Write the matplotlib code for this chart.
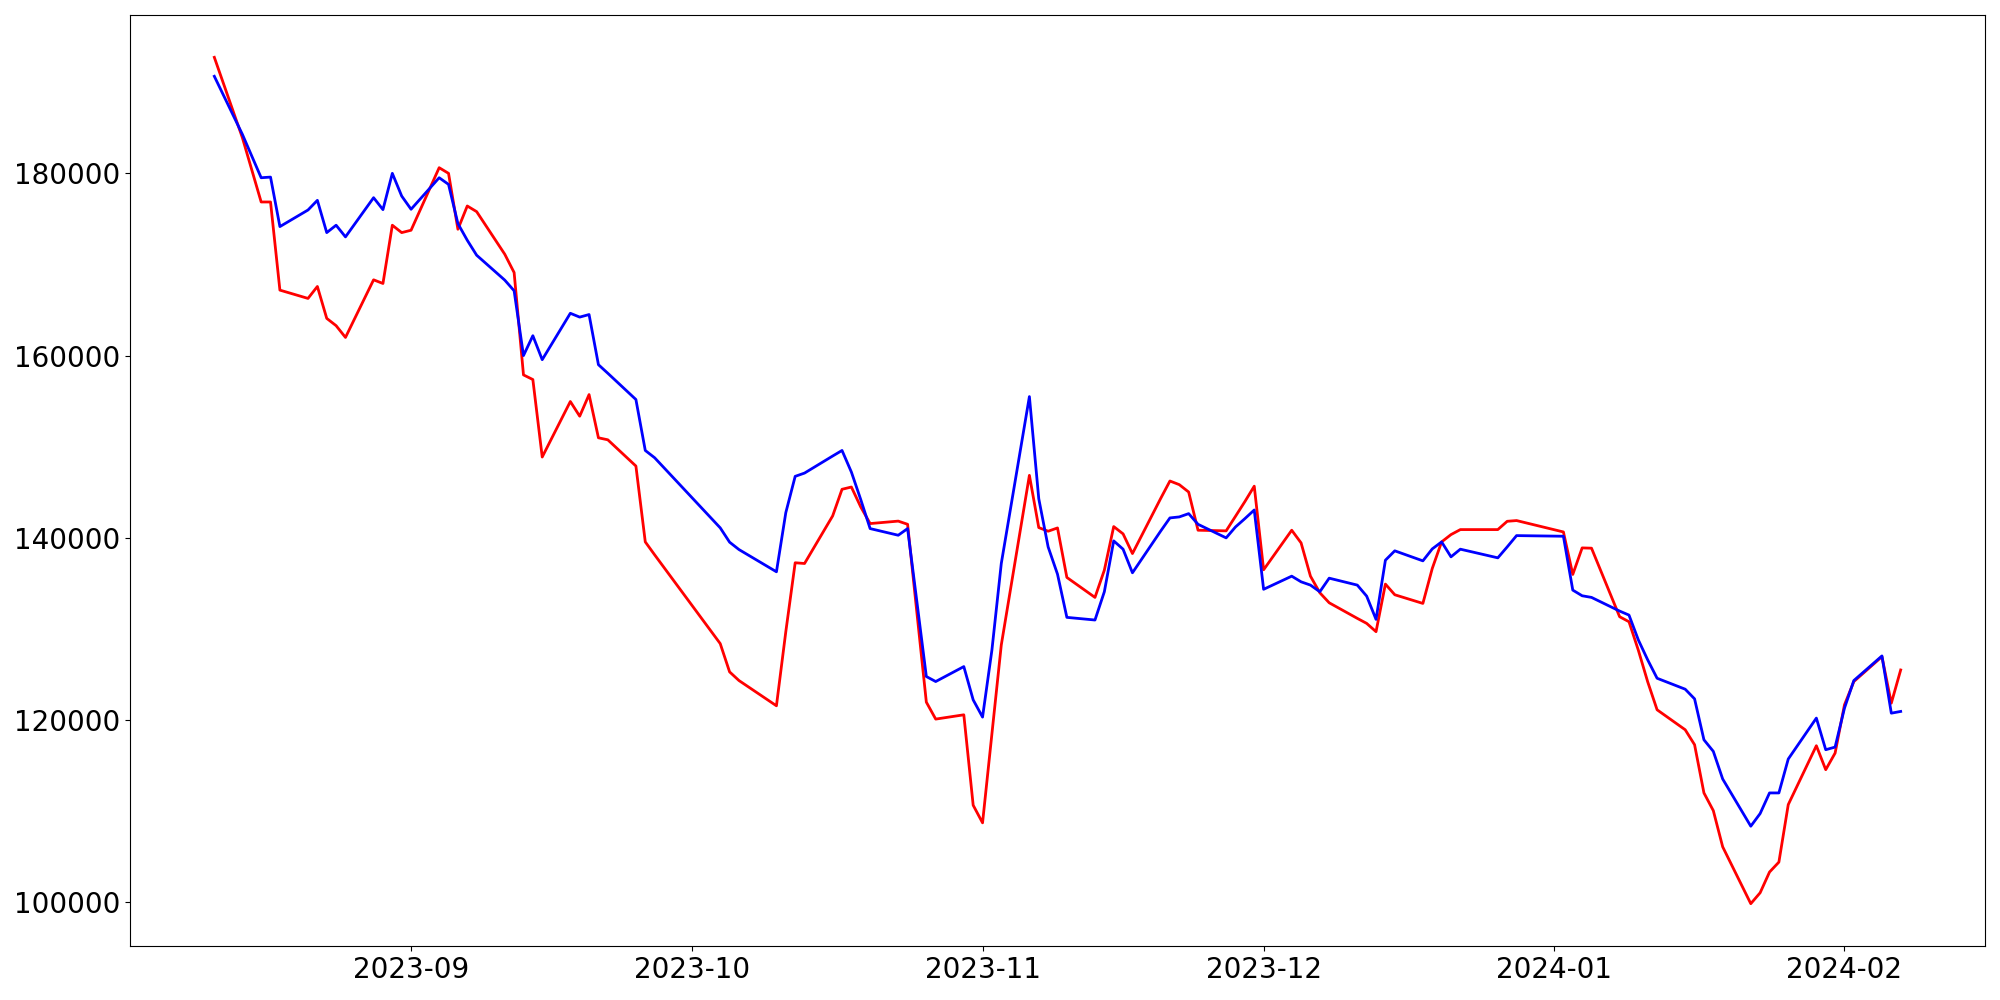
import numpy as np
import pandas as pd
import matplotlib
matplotlib.use("Agg")
import matplotlib.pyplot as plt

# trading days (KRX calendar)
dates = [
    "2023-08-11", "2023-08-14", "2023-08-16", "2023-08-17", "2023-08-18",
    "2023-08-21", "2023-08-22", "2023-08-23", "2023-08-24", "2023-08-25",
    "2023-08-28", "2023-08-29", "2023-08-30", "2023-08-31", "2023-09-01",
    "2023-09-04", "2023-09-05", "2023-09-06", "2023-09-07", "2023-09-08",
    "2023-09-11", "2023-09-12", "2023-09-13", "2023-09-14", "2023-09-15",
    "2023-09-18", "2023-09-19", "2023-09-20", "2023-09-21", "2023-09-22",
    "2023-09-25", "2023-09-26", "2023-09-27", "2023-10-04", "2023-10-05",
    "2023-10-06", "2023-10-10", "2023-10-11", "2023-10-12", "2023-10-13",
    "2023-10-16", "2023-10-17", "2023-10-18", "2023-10-19", "2023-10-20",
    "2023-10-23", "2023-10-24", "2023-10-25", "2023-10-26", "2023-10-27",
    "2023-10-30", "2023-10-31", "2023-11-01", "2023-11-02", "2023-11-03",
    "2023-11-06", "2023-11-07", "2023-11-08", "2023-11-09", "2023-11-10",
    "2023-11-13", "2023-11-14", "2023-11-15", "2023-11-16", "2023-11-17",
    "2023-11-20", "2023-11-21", "2023-11-22", "2023-11-23", "2023-11-24",
    "2023-11-27", "2023-11-28", "2023-11-29", "2023-11-30", "2023-12-01",
    "2023-12-04", "2023-12-05", "2023-12-06", "2023-12-07", "2023-12-08",
    "2023-12-11", "2023-12-12", "2023-12-13", "2023-12-14", "2023-12-15",
    "2023-12-18", "2023-12-19", "2023-12-20", "2023-12-21", "2023-12-22",
    "2023-12-26", "2023-12-27", "2023-12-28", "2024-01-02", "2024-01-03",
    "2024-01-04", "2024-01-05", "2024-01-08", "2024-01-09", "2024-01-10",
    "2024-01-11", "2024-01-12", "2024-01-15", "2024-01-16", "2024-01-17",
    "2024-01-18", "2024-01-19", "2024-01-22", "2024-01-23", "2024-01-24",
    "2024-01-25", "2024-01-26", "2024-01-29", "2024-01-30", "2024-01-31",
    "2024-02-01", "2024-02-02", "2024-02-05", "2024-02-06", "2024-02-07",
]

red_values = [
    192720, 183890, 176850, 176850, 167180,
    166270, 167580, 164080, 163280, 161990,
    168310, 167910, 174300, 173490, 173750,
    180610, 179990, 173860, 176410, 175790,
    171120, 169110, 157880, 157370, 148870,
    154960, 153350, 155720, 150980, 150760,
    147880, 139560, 138140, 128400, 125300,
    124350, 121580, 129710, 137270, 137190,
    142410, 145330, 145580, 143390, 141570,
    141840, 141490, 131720, 121980, 120120,
    120590, 110670, 108740, 118510, 128250,
    146860, 141130, 140730, 141090, 135660,
    133470, 136460, 141240, 140440, 138280,
    144300, 146240, 145840, 145030, 140840,
    140770, 142370, 143980, 145670, 136500,
    140840, 139450, 135800, 133980, 132880,
    131170, 130620, 129710, 134930, 133760,
    132810, 136640, 139560, 140360, 140910,
    140910, 141820, 141900, 140650, 135990,
    138900, 138870, 131350, 130800, 127670,
    124200, 121140, 118950, 117310, 112020,
    110080, 106110, 99870, 101070, 103340,
    104430, 110740, 117200, 114570, 116390,
    121680, 124240, 126970, 121870, 125510,
]

blue_values = [
    190640, 184260, 179510, 179580, 174150,
    175970, 177030, 173490, 174300, 173020,
    177320, 176010, 179990, 177500, 176050,
    179510, 178780, 174480, 172650, 171010,
    168280, 167110, 160000, 162180, 159550,
    164640, 164220, 164500, 159000, 158060,
    155180, 149590, 148790, 141100, 139530,
    138720, 136280, 142770, 146750, 147110,
    148980, 149590, 147220, 144200, 141020,
    140290, 141020, 132920, 124790, 124240,
    125880, 122230, 120340, 127700, 137190,
    155500, 144300, 139010, 136020, 131280,
    130990, 134090, 139670, 138760, 136170,
    140730, 142190, 142300, 142660, 141490,
    140000, 141200, 142110, 143060, 134360,
    135800, 135180, 134820, 134090, 135580,
    134820, 133610, 131060, 137550, 138580,
    137480, 138790, 139560, 137920, 138760,
    137810, 139010, 140250, 140180, 134270,
    133650, 133470, 131970, 131530, 128800,
    126610, 124600, 123400, 122340, 117850,
    116580, 113550, 108370, 109760, 112020,
    112020, 115740, 120230, 116760, 117050,
    121320, 124350, 127050, 120770, 120960,
]

x = pd.to_datetime(dates)

fig, ax = plt.subplots(figsize=(20, 10), dpi=100)
ax.plot(x, red_values, color="red", linewidth=2)
ax.plot(x, blue_values, color="blue", linewidth=2)

ax.tick_params(axis="both", labelsize=20)

plt.subplots_adjust(left=0.065, right=0.9925, top=0.985, bottom=0.054)
plt.savefig("out.png")
plt.close()
